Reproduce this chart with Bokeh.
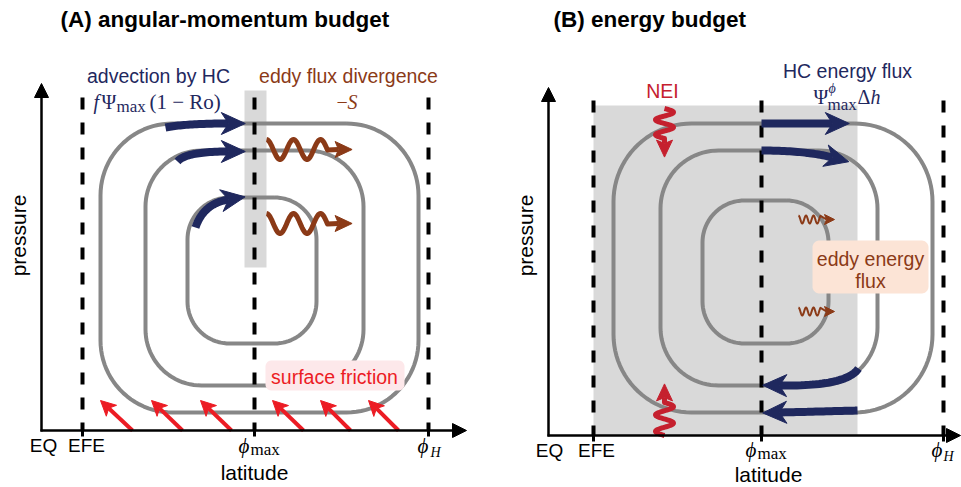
import numpy as np
from bokeh.plotting import figure
from bokeh.models import Range1d
from bokeh.core.properties import value
from bokeh.embed import file_html
from bokeh.resources import INLINE

# ---------------- schematic definition (pixel-space coordinates) ----------------
TITLES = ["(A) angular-momentum budget", "(B) energy budget"]
TITLE_X = [60, 553]
TITLE_Y = [19, 19]

AX_X0 = [41, 548]        # y-axis position
AX_Y0 = [430, 435]       # x-axis position
AX_YTOP = [83, 87]       # y-axis arrow tip
AX_XEND = [466, 960]     # x-axis arrow tip

MARK_X_A = [82, 254, 428]      # EFE, phi_max, phi_H
MARK_X_B = [593, 761, 943]
MARK_TOP = [97, 100]

TICK_LABELS = ["EQ", "EFE"]
TICK_LABEL_X_A = [43, 86]
TICK_LABEL_X_B = [549, 596]
TICK_LABEL_Y = [445, 450]

# streamfunction contours: x0, x1, y0, y1, corner radius
LOOPS_A = [(100, 418, 123, 412, 72), (145, 363, 150, 385, 56), (187, 316, 197, 343, 42)]
LOOPS_B = [(613, 932, 123, 412, 78), (660, 877, 150, 385, 58), (702, 828, 200, 343, 42)]

SHADE_A = (244, 266, 90, 267)
SHADE_B = (593, 857, 105, 435)

# HC advection arrows: start, control, shaft end
HC_ARROWS_A = [((165, 127), (185, 123), (228, 123)),
               ((177, 161), (185, 151), (228, 151)),
               ((195, 227), (203, 203), (228, 199))]
HC_ARROWS_B = [((761, 123), (790, 123), (832, 123)),
               ((761, 150), (805, 150), (832, 157)),
               ((858, 368), (846, 386), (779, 385)),
               ((857, 410), (820, 411), (779, 412))]

# surface friction arrows (tail -> tip)
FRICTION_TAIL_X = [132, 182, 231, 303, 350, 398]
FRICTION_TIP_X = [100, 151, 200, 272, 320, 368]
FRICTION_TAIL_Y = 430
FRICTION_TIP_Y = 400

# eddy wavy arrows: x start, x end of wave, centre y, period, amplitude
EDDY_A = [(266, 327, 149, 27, 10), (266, 327, 223, 27, 10)]
EDDY_B = [(798, 820, 219, 7.5, 4), (798, 820, 311, 7.5, 4)]

# NEI wavy arrows (vertical): x centre, y start, y end, period, amplitude
NEI = [(664, 108, 138, 15, 9), (664, 435, 402, 16.5, 9)]

NAVY = "#1F285E"
BROWN = "#8B3A17"
RED = "#EC1C24"
CRIMSON = "#C5202E"
GRAY = "#878787"
SHADE = "#D9D9D9"
SANS = "Liberation Sans"
SERIF = "Liberation Serif"

# ---------------- figure ----------------
p = figure(width=961, height=487, x_range=Range1d(0, 961), y_range=Range1d(487, 0),
           output_backend="svg", toolbar_location=None, min_border=0)
p.axis.visible = False
p.grid.visible = False
p.outline_line_color = None
p.background_fill_color = "white"


def rrect(x0, x1, y0, y1, r, n=24):
    xs, ys = [], []
    corners = [(x1 - r, y0 + r, -np.pi / 2, 0), (x1 - r, y1 - r, 0, np.pi / 2),
               (x0 + r, y1 - r, np.pi / 2, np.pi), (x0 + r, y0 + r, np.pi, 1.5 * np.pi)]
    for cx, cy, a0, a1 in corners:
        a = np.linspace(a0, a1, n)
        xs.extend(cx + r * np.cos(a))
        ys.extend(cy + r * np.sin(a))
    xs.append(xs[0]); ys.append(ys[0])
    return xs, ys


def head(end, u, L, W, notch, color):
    ux, uy = u
    nx, ny = -uy, ux
    tip = (end[0] + (1 - notch) * L * ux, end[1] + (1 - notch) * L * uy)
    back = (tip[0] - L * ux, tip[1] - L * uy)
    xs = [tip[0], back[0] + W * nx, end[0], back[0] - W * nx]
    ys = [tip[1], back[1] + W * ny, end[1], back[1] - W * ny]
    p.patch(xs, ys, fill_color=color, line_color=color, line_width=1)


def unit(a, b):
    d = np.array(b, float) - np.array(a, float)
    return d / np.hypot(*d)


def bez(p0, c, p1, n=30):
    t = np.linspace(0, 1, n)
    xs = (1 - t) ** 2 * p0[0] + 2 * (1 - t) * t * c[0] + t ** 2 * p1[0]
    ys = (1 - t) ** 2 * p0[1] + 2 * (1 - t) * t * c[1] + t ** 2 * p1[1]
    return xs, ys


def txt(x, y, s, size, color="black", font=SANS, style="normal", align="center", angle=0.0):
    p.text(x=[x], y=[y], text=[s], text_font=value(font), text_font_size=f"{size}px",
           text_font_style=style, text_color=color, text_align=align,
           text_baseline="middle", angle=angle)


# shaded regions
for (x0, x1, y0, y1) in [SHADE_A, SHADE_B]:
    p.quad(left=x0, right=x1, top=y0, bottom=y1, fill_color=SHADE, line_color=None)

# contours
for lp in LOOPS_A + LOOPS_B:
    xs, ys = rrect(*lp)
    p.line(xs, ys, line_width=4, line_color=GRAY)

# text boxes (drawn over the contours)
bx, by = rrect(265, 404, 360, 390, 6)
p.patch(bx, by, fill_color="#FDE8EA", line_color=None)
bx, by = rrect(812, 928, 240, 293, 7)
p.patch(bx, by, fill_color="#FCE4D6", line_color=None)

# dashed latitude markers
for marks, top, y0 in [(MARK_X_A, MARK_TOP[0], AX_Y0[0]), (MARK_X_B, MARK_TOP[1], AX_Y0[1])]:
    for x in marks:
        p.line([x, x], [top, y0], line_width=4, line_color="black", line_dash="12 13")
        p.line([x, x], [y0, y0 + 6], line_width=3, line_color="black")

# HC arrows
for p0, c, e in HC_ARROWS_A + HC_ARROWS_B:
    xs, ys = bez(p0, c, e)
    p.line(xs, ys, line_width=8, line_color=NAVY)
    head(e, unit(c, e), 24, 11, 0.3, NAVY)

# friction arrows
for tx, hx in zip(FRICTION_TAIL_X, FRICTION_TIP_X):
    u = unit((tx, FRICTION_TAIL_Y), (hx, FRICTION_TIP_Y))
    L, notch = 15, 0.25
    end = (hx - (1 - notch) * L * u[0], FRICTION_TIP_Y - (1 - notch) * L * u[1])
    p.line([tx, end[0]], [FRICTION_TAIL_Y, end[1]], line_width=4, line_color=RED)
    head(end, u, L, 7.5, notch, RED)

# eddy wavy arrows
for waves, lw, ext, L, W in [(EDDY_A, 5, 11, 17, 8), (EDDY_B, 2, 6, 10, 5)]:
    for x0, x1, yc, P, A in waves:
        xs = np.linspace(x0, x1, 80)
        ys = yc - A * np.cos(2 * np.pi * (xs - x0) / P)
        xs = list(xs) + [x1 + ext]
        ys = list(ys) + [yc]
        p.line(xs, ys, line_width=lw, line_color=BROWN, line_join="round")
        head((x1 + ext, yc), (1.0, 0.0), L, W, 0.2, BROWN)

# NEI wavy arrows
for xc, ya, yb, P, A in NEI:
    ys = np.linspace(ya, yb, 80)
    xs = xc + A * np.sin(2 * np.pi * (ys - ya) / P)
    sgn = 1 if yb > ya else -1
    ys = list(ys) + [yb + 5 * sgn]
    xs = list(xs) + [xc]
    p.line(xs, ys, line_width=5, line_color=CRIMSON, line_join="round")
    head((xc, yb + 5 * sgn), (0.0, float(sgn)), 17, 8, 0.2, CRIMSON)

# coordinate axes
for x0, y0, ytop, xend in zip(AX_X0, AX_Y0, AX_YTOP, AX_XEND):
    p.line([x0, x0], [y0 + 1, ytop + 12], line_width=2.5, line_color="black")
    head((x0, ytop + 14), (0.0, -1.0), 14, 7, 0.0, "black")
    p.line([x0 - 1, xend - 12], [y0, y0], line_width=2.5, line_color="black")
    head((xend - 14, y0), (1.0, 0.0), 14, 7, 0.0, "black")

# titles
for s, x, y in zip(TITLES, TITLE_X, TITLE_Y):
    txt(x, y, s, 22.5, style="bold", align="left")

# axis texts
for xs_lab, y in [(TICK_LABEL_X_A, TICK_LABEL_Y[0]), (TICK_LABEL_X_B, TICK_LABEL_Y[1])]:
    for s, x in zip(TICK_LABELS, xs_lab):
        txt(x, y, s, 19)
txt(254, 472, "latitude", 21)
txt(768, 474, "latitude", 21)
txt(18, 235, "pressure", 21, angle=np.pi / 2)
txt(525, 235, "pressure", 21, angle=np.pi / 2)

# phi labels
txt(238, 445, "ϕ", 21, font=SERIF, style="italic", align="left")
txt(250, 449, "max", 17, font=SERIF, align="left")
txt(417, 445, "ϕ", 21, font=SERIF, style="italic", align="left")
txt(430, 452, "H", 14, font=SERIF, style="italic", align="left")
txt(745, 449, "ϕ", 21, font=SERIF, style="italic", align="left")
txt(757, 453, "max", 17, font=SERIF, align="left")
txt(931, 449, "ϕ", 21, font=SERIF, style="italic", align="left")
txt(943, 456, "H", 14, font=SERIF, style="italic", align="left")

# annotations panel A
txt(158, 75, "advection by HC", 19.5, color=NAVY)
txt(93, 101, "f", 20, color=NAVY, font=SERIF, style="italic", align="left")
txt(101, 101, "Ψ", 20, color=NAVY, font=SERIF, align="left")
txt(116, 106, "max", 17, color=NAVY, font=SERIF, align="left")
txt(149, 101, "(1 − Ro)", 21, color=NAVY, font=SERIF, align="left")
txt(348, 75, "eddy flux divergence", 19.5, color=BROWN)
txt(336, 101, "−", 20, color=BROWN, font=SERIF, align="left")
txt(347, 101, "S", 20, color=BROWN, font=SERIF, style="italic", align="left")
txt(334, 376, "surface friction", 19.5, color=RED)

# annotations panel B
txt(847, 70, "HC energy flux", 19.5, color=NAVY)
txt(813, 96, "Ψ", 20, color=NAVY, font=SERIF, align="left")
txt(828, 88, "ϕ", 14, color=NAVY, font=SERIF, style="italic", align="left")
txt(827, 104, "max", 17, color=NAVY, font=SERIF, align="left")
txt(857, 96, "Δ", 20, color=NAVY, font=SERIF, align="left")
txt(870, 96, "h", 20, color=NAVY, font=SERIF, style="italic", align="left")
txt(662, 90, "NEI", 19.5, color=CRIMSON)
txt(870, 258, "eddy energy", 19.5, color=BROWN)
txt(870, 280, "flux", 19.5, color=BROWN)

open("out.html", "w").write(file_html(p, INLINE))
